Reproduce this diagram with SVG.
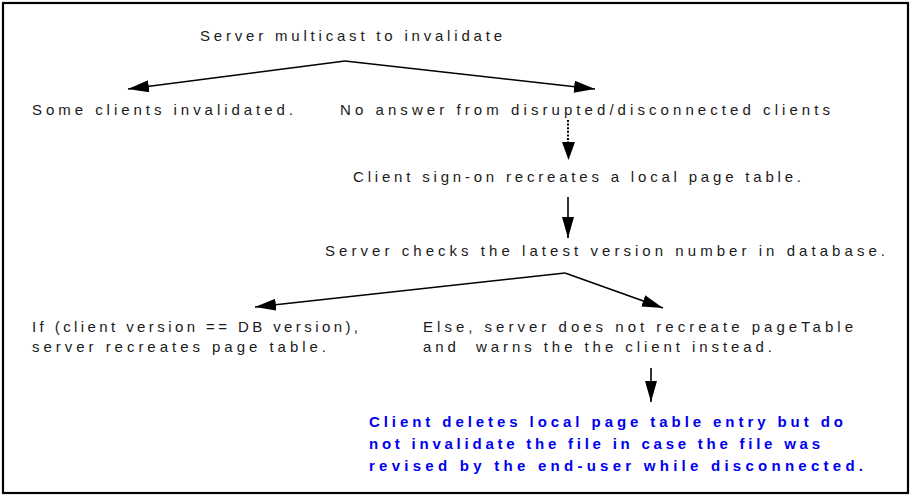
<svg xmlns="http://www.w3.org/2000/svg" width="911" height="497" viewBox="0 0 911 497">
  <style>
    .t { font-family: "Liberation Sans", Arial, sans-serif; font-size: 15px; fill: #1a1a1a; }
    .b { font-family: "Liberation Sans", Arial, sans-serif; font-size: 15px; font-weight: bold; fill: #0000f0; }
    .c { fill: none; stroke: #000; stroke-width: 1.6; }
    .d { fill: none; stroke: #000; stroke-width: 2; stroke-dasharray: 2 1.6; }
  </style>
  <defs>
    <marker id="ah" markerUnits="userSpaceOnUse" markerWidth="21" markerHeight="12" refX="21" refY="6" orient="auto" viewBox="0 0 21 12">
      <path d="M0,0 L21,6 L0,12 z" fill="#000"/>
    </marker>
  </defs>
  <rect x="3" y="3" width="905" height="490" fill="#fff" stroke="#000" stroke-width="2.2"/>

  <g id="connectors">
    <path class="c" d="M345,61 L128,89" marker-end="url(#ah)"/>
    <path class="c" d="M345,61 L595,89" marker-end="url(#ah)"/>
    <path class="d" d="M568,120 L568,144"/>
    <path d="M562,142 L575,142 L568.5,160 z" fill="#000"/>
    <path class="c" d="M568,197 L568,238" marker-end="url(#ah)"/>
    <path class="c" d="M565,273 L255,307" marker-end="url(#ah)"/>
    <path class="c" d="M565,273 L663,308" marker-end="url(#ah)"/>
    <path class="c" d="M651,368 L651,402" marker-end="url(#ah)"/>
  </g>

  <g id="n-multicast"><text class="t" x="200" y="41" textLength="302" lengthAdjust="spacing">Server multicast to invalidate</text></g>
  <g id="n-invalidated"><text class="t" x="32" y="115" textLength="261" lengthAdjust="spacing">Some clients invalidated.</text></g>
  <g id="n-noanswer"><text class="t" x="340" y="115" textLength="490" lengthAdjust="spacing">No answer from disrupted/disconnected clients</text></g>
  <g id="n-signon"><text class="t" x="353" y="182" textLength="448" lengthAdjust="spacing">Client sign-on recreates a local page table.</text></g>
  <g id="n-check"><text class="t" x="325" y="256" textLength="560" lengthAdjust="spacing">Server checks the latest version number in database.</text></g>
  <g id="n-if">
    <text class="t" x="32" y="332" textLength="326" lengthAdjust="spacing">If (client version == DB version),</text>
    <text class="t" x="32" y="352" textLength="294" lengthAdjust="spacing">server recreates page table.</text>
  </g>
  <g id="n-else">
    <text class="t" x="423" y="332" textLength="430" lengthAdjust="spacing">Else, server does not recreate pageTable</text>
    <text class="t" x="423" y="352" textLength="349" lengthAdjust="spacing" xml:space="preserve">and  warns the the client instead.</text>
  </g>
  <g id="n-delete">
    <text class="b" x="369" y="427" textLength="474" lengthAdjust="spacing">Client deletes local page table entry but do</text>
    <text class="b" x="369" y="449" textLength="451" lengthAdjust="spacing">not invalidate the file in case the file was</text>
    <text class="b" x="369" y="471" textLength="494" lengthAdjust="spacing">revised by the end-user while disconnected.</text>
  </g>
</svg>
